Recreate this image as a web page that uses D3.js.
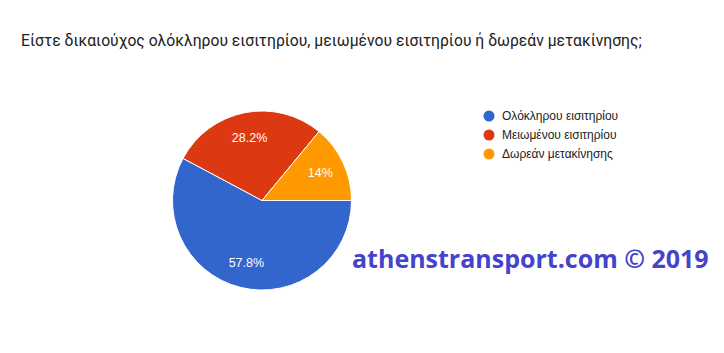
<!DOCTYPE html>
<html>
<head>
<meta charset="utf-8">
<script src="https://cdn.jsdelivr.net/npm/d3@7"></script>
<style>
  body { margin: 0; background: #fff; }
  svg { display: block; }
</style>
</head>
<body>
<svg id="viz"></svg>
<script>
const categories = ['Ολόκληρου εισιτηρίου', 'Μειωμένου εισιτηρίου', 'Δωρεάν μετακίνησης'];
const values = [57.8, 28.2, 14];
const labels = ['57.8%', '28.2%', '14%'];
const colors = ['#3366cc', '#dc3912', '#ff9900'];

const width = 724;
const height = 353;
const cx = 262;
const cy = 200.5;
const radius = 89.5;

const svg = d3.select('#viz').attr('width', width).attr('height', height);

// TITLE
svg
  .append('text')
  .attr('x', 21)
  .attr('y', 46)
  .style('font-family', 'Roboto, sans-serif')
  .style('font-size', '15.7px')
  .style('fill', '#212121')
  .text('Είστε δικαιούχος ολόκληρου εισιτηρίου, μειωμένου εισιτηρίου ή δωρεάν μετακίνησης;');

// PIE
const pie = d3
  .pie()
  .sort(null)
  .startAngle(Math.PI / 2)
  .endAngle(Math.PI / 2 + 2 * Math.PI);
const arc = d3.arc().innerRadius(0).outerRadius(radius);
const labelArc = d3.arc().innerRadius(radius * 0.72).outerRadius(radius * 0.72);

const g = svg.append('g').attr('transform', 'translate(' + cx + ',' + cy + ')');
const arcs = pie(values);

g.selectAll('path')
  .data(arcs)
  .enter()
  .append('path')
  .attr('d', arc)
  .style('fill', (d, i) => colors[i])
  .style('stroke', '#fff')
  .style('stroke-width', 1);

g.selectAll('.slice-label')
  .data(arcs)
  .enter()
  .append('text')
  .attr('class', 'slice-label')
  .attr('transform', (d) => 'translate(' + labelArc.centroid(d) + ')')
  .attr('text-anchor', 'middle')
  .attr('dy', '0.35em')
  .style('font-family', 'Arial, "Liberation Sans", sans-serif')
  .style('font-size', '12.5px')
  .style('fill', '#fff')
  .text((d, i) => labels[i]);

// LEGEND
const legend = svg
  .append('g')
  .selectAll('g')
  .data(categories)
  .enter()
  .append('g')
  .attr('transform', (d, i) => 'translate(489,' + (116 + i * 19) + ')');

legend
  .append('circle')
  .attr('r', 5.5)
  .style('fill', (d, i) => colors[i]);

legend
  .append('text')
  .attr('x', 13)
  .attr('dy', '0.35em')
  .style('font-family', 'Arial, "Liberation Sans", sans-serif')
  .style('font-size', '12px')
  .style('fill', '#222')
  .text((d) => d);

// WATERMARK
svg
  .append('text')
  .attr('x', 352)
  .attr('y', 268)
  .style('font-family', '"Open Sans", sans-serif')
  .style('font-weight', 'bold')
  .style('font-size', '25px')
  .style('fill', '#4343cc')
  .text('athenstransport.com © 2019');
</script>
</body>
</html>
